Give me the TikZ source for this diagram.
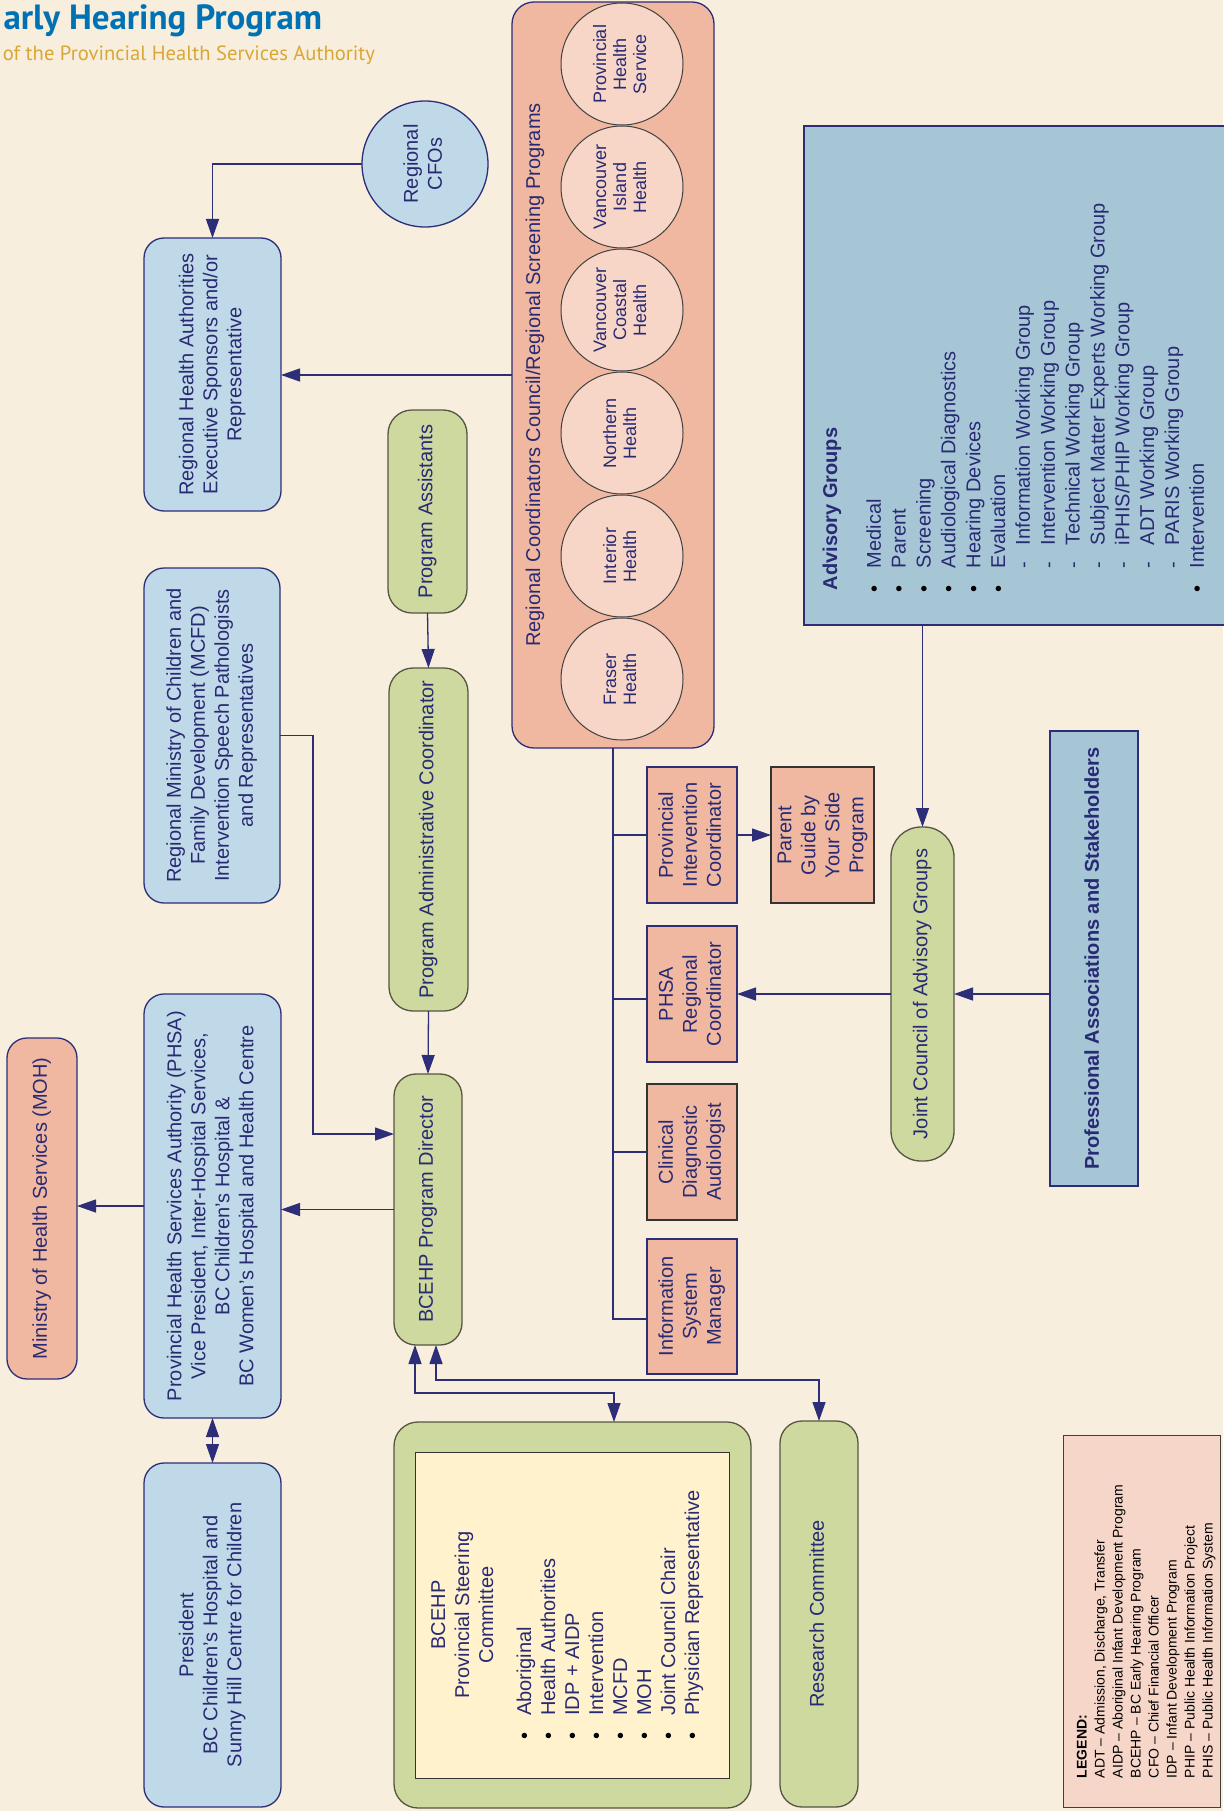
\documentclass[tikz,border=0pt]{standalone}
\usepackage{fontspec}
\setmainfont{Liberation Sans}
\newfontfamily\headfont{PT Sans}
\usetikzlibrary{arrows.meta,calc}
\definecolor{bg}{RGB}{248,238,222}
\definecolor{navy}{RGB}{45,45,120}
\definecolor{navytext}{RGB}{40,42,115}
\definecolor{lblue}{RGB}{192,217,232}
\definecolor{lgreen}{RGB}{206,217,160}
\definecolor{salmon}{RGB}{240,184,160}
\definecolor{lpink}{RGB}{247,214,200}
\definecolor{advblue}{RGB}{166,198,214}
\definecolor{legpink}{RGB}{246,214,200}
\definecolor{lyellow}{RGB}{255,242,204}
\definecolor{olive}{RGB}{85,85,65}
\definecolor{hblue}{RGB}{0,113,178}
\definecolor{hgold}{RGB}{218,166,52}
\newcommand\rt[1]{\rotatebox{90}{\begin{tabular}{@{}c@{}}#1\end{tabular}}}
\newcommand\bul{\hspace*{8pt}\makebox[24pt][l]{\textcolor{black}{•}}}
\newcommand\dsh{\hspace*{32pt}\makebox[23pt][l]{-}}
\begin{document}
\begin{tikzpicture}[x=1pt,y=-1pt,
  every node/.style={inner sep=0pt, outer sep=0pt},
  base/.style={line width=1.3pt, text=navytext, font=\fontsize{20}{24}\selectfont},
  bluebox/.style={base, draw=navy, fill=lblue, rounded corners=20pt},
  greenbox/.style={base, draw=olive, fill=lgreen, rounded corners=24pt},
  salbox/.style={base, draw=navy, fill=salmon},
  region/.style={base, circle, draw=black!75, fill=lpink, line width=1pt, font=\fontsize{18}{20}\selectfont},
  conn/.style={draw=navy, line width=1.3pt},
  arr/.style={conn, -{Triangle[length=19pt,width=13pt]}},
  arrb/.style={conn, {Triangle[length=19pt,width=13pt]}-{Triangle[length=19pt,width=13pt]}}]
\useasboundingbox (0,0) rectangle (1223,1811);
\fill[bg] (0,0) rectangle (1223,1811);

% header
\node[anchor=base east, font=\headfont\bfseries\fontsize{35}{35}\selectfont, text=hblue] (title) at (322,30) {arly Hearing Program};
\node[anchor=base east, font=\headfont\fontsize{20.6}{21}\selectfont, text=hgold] (subtitle) at (375,61) {of the Provincial Health Services Authority};

% regional coordinators council
\node[base, draw=navy, fill=salmon, rounded corners=22pt, minimum width=202pt, minimum height=746pt] (rcc) at (613,375) {};
\node[rotate=90, anchor=base, text=navytext, font=\fontsize{20}{24}\selectfont] (rcctitle) at (540,375) {Regional Coordinators Council/Regional Screening Programs};
\node[region, minimum size=122pt] (phs) at (622,64) {\rt{Provincial\\Health\\Service}};
\node[region, minimum size=122pt] (vih) at (622,187) {\rt{Vancouver\\Island\\Health}};
\node[region, minimum size=122pt] (vch) at (622,310) {\rt{Vancouver\\Coastal\\Health}};
\node[region, minimum size=122pt] (nh) at (622,433) {\rt{Northern\\Health}};
\node[region, minimum size=122pt] (ih) at (622,556) {\rt{Interior\\Health}};
\node[region, minimum size=122pt] (fh) at (622,679) {\rt{Fraser\\Health}};

% left column
\node[base, circle, draw=navy, fill=lblue, minimum size=126pt] (cfo) at (425,164) {\rt{Regional\\CFOs}};
\node[bluebox, minimum width=137pt, minimum height=273pt] (rha) at (212.5,374.5) {\rt{Regional Health Authorities\\Executive Sponsors and/or\\Representative}};
\node[bluebox, minimum width=136pt, minimum height=335pt] (mcfd) at (212,735.5) {\rt{Regional Ministry of Children and\\Family Development (MCFD)\\Intervention Speech Pathologists\\and Representatives}};
\node[bluebox, minimum width=137pt, minimum height=424pt] (phsa) at (212.5,1206) {\rt{Provincial Health Services Authority (PHSA)\\Vice President, Inter-Hospital Services,\\BC Children's Hospital \&\\BC Women's Hospital and Health Centre}};
\node[bluebox, minimum width=137pt, minimum height=344pt] (pres) at (212.5,1635) {\rt{President\\BC Children's Hospital and\\Sunny Hill Centre for Children}};
\node[base, draw=navy, fill=salmon, rounded corners=20pt, minimum width=70pt, minimum height=341pt] (moh) at (42,1208.5) {\rt{Ministry of Health Services (MOH)}};

% program column
\node[greenbox, minimum width=79pt, minimum height=203pt] (pa) at (427.5,511.5) {\rt{Program Assistants}};
\node[greenbox, minimum width=79pt, minimum height=343pt] (pac) at (428.5,839.5) {\rt{Program Administrative Coordinator}};
\node[greenbox, rounded corners=22pt, minimum width=68pt, minimum height=271pt] (dir) at (428,1209.5) {\rt{BCEHP Program Director}};

% steering committee
\node[greenbox, minimum width=357pt, minimum height=386pt] (steer) at (572.5,1615) {};
\node[base, draw=black!80, line width=1pt, fill=lyellow, minimum width=314pt, minimum height=326pt] (steerin) at (572,1615) {};
\node[anchor=west, text=navytext, font=\fontsize{20}{24}\selectfont] (steertext) at (428.2,1615) {\rotatebox{90}{\begin{tabular}{@{}c@{}}BCEHP\\Provincial Steering\\Committee\\[14pt]
\begin{tabular}[t]{@{}l@{}}
\makebox[24pt][l]{\textcolor{black}{•}}Aboriginal\\
\makebox[24pt][l]{\textcolor{black}{•}}Health Authorities\\
\makebox[24pt][l]{\textcolor{black}{•}}IDP + AIDP\\
\makebox[24pt][l]{\textcolor{black}{•}}Intervention\\
\makebox[24pt][l]{\textcolor{black}{•}}MCFD\\
\makebox[24pt][l]{\textcolor{black}{•}}MOH\\
\makebox[24pt][l]{\textcolor{black}{•}}Joint Council Chair\\
\makebox[24pt][l]{\textcolor{black}{•}}Physician Representative
\end{tabular}\end{tabular}}};
\node[greenbox, rounded corners=22pt, minimum width=78pt, minimum height=386pt] (res) at (819,1614) {\rt{Research Committee}};

% staff boxes
\node[salbox, minimum width=90pt, minimum height=136pt] (pic) at (692,835) {\rt{Provincial\\Intervention\\Coordinator}};
\node[salbox, draw=black!80, minimum width=103pt, minimum height=136pt] (pg) at (822.5,835) {\rt{Parent\\Guide by\\Your Side\\Program}};
\node[salbox, minimum width=90pt, minimum height=136pt] (phsarc) at (692,994) {\rt{PHSA\\Regional\\Coordinator}};
\node[salbox, draw=black!80, minimum width=90pt, minimum height=136pt] (cda) at (692,1152) {\rt{Clinical\\Diagnostic\\Audiologist}};
\node[salbox, minimum width=90pt, minimum height=135pt] (ism) at (692,1306.5) {\rt{Information\\System\\Manager}};

% right side
\node[greenbox, rounded corners=30pt, minimum width=63pt, minimum height=334pt] (jc) at (922.5,994) {\rt{Joint Council of Advisory Groups}};
\node[base, draw=navy, fill=advblue, minimum width=440pt, minimum height=499pt] (adv) at (1024,375.5) {};
\node[anchor=south west, text=navytext, font=\fontsize{20}{24.85}\selectfont] (advlist) at (819.6,600) {\rotatebox{90}{\begin{tabular}{@{}l@{}}
\hspace*{10pt}\textbf{Advisory Groups}\\[19pt]
\bul Medical\\
\bul Parent\\
\bul Screening\\
\bul Audiological Diagnostics\\
\bul Hearing Devices\\
\bul Evaluation\\
\dsh Information Working Group\\
\dsh Intervention Working Group\\
\dsh Technical Working Group\\
\dsh Subject Matter Experts Working Group\\
\dsh iPHIS/PHIP Working Group\\
\dsh ADT Working Group\\
\dsh PARIS Working Group\\
\bul Intervention
\end{tabular}}};
\node[base, draw=navy, fill=advblue, minimum width=88pt, minimum height=455pt] (prof) at (1094,958.5) {\rt{\textbf{Professional Associations and Stakeholders}}};

% legend
\node[base, draw=black!75, line width=1pt, fill=legpink, minimum width=157pt, minimum height=372pt] (leg) at (1141.5,1621) {};
\node[anchor=south west, text=black, font=\fontsize{14}{18}\selectfont] (legtext) at (1074,1778) {\rotatebox{90}{\begin{tabular}{@{}l@{}}\textbf{LEGEND:}\\
ADT – Admission, Discharge, Transfer\\
AIDP – Aboriginal Infant Development Program\\
BCEHP – BC Early Hearing Program\\
CFO – Chief Financial Officer\\
IDP – Infant Development Program\\
PHIP – Public Health Information Project\\
PHIS – Public Health Information System\end{tabular}}};

% connectors
\draw[arr] (cfo.west) -| (rha.north);
\draw[arr] (rcc.west) -- (rcc.west -| rha.east);
\coordinate (spineend) at (613,1319);
\draw[conn] (rcc.south) -- (spineend) -- (spineend -| ism.west);
\draw[conn] (rcc.south |- pic.west) -- (pic.west);
\draw[conn] (613,999) -- (phsarc.west |- 0,999);
\draw[conn] (rcc.south |- cda.west) -- (cda.west);
\draw[arr] (pic.east) -- (pg.west);
\draw[arr] (pa.south) -- (pac.north);
\draw[arr] (pac.south) -- (dir.north);
\coordinate (mcfdturn) at (313,1134);
\draw[arr] (mcfd.east) -| (mcfdturn) -- (mcfdturn -| dir.west);
\draw[arr] (dir.west) -- (dir.west -| phsa.east);
\draw[arr] (phsa.west) -- (phsa.west -| moh.east);
\draw[arrb] (phsa.south) -- (pres.north);
\draw[arrb] ($(dir.south)+(-13,0)$) -- ++(0,48) -| ($(steer.north)+(41.5,0)$);
\draw[arrb] ($(dir.south)+(8,0)$) -- ++(0,35) -| (res.north);
\draw[arr] (jc.west) -- (jc.west -| phsarc.east);
\draw[arr] (jc.north |- adv.south) -- (jc.north);
\draw[arr] (prof.west |- jc.east) -- (jc.east);
\end{tikzpicture}
\end{document}
